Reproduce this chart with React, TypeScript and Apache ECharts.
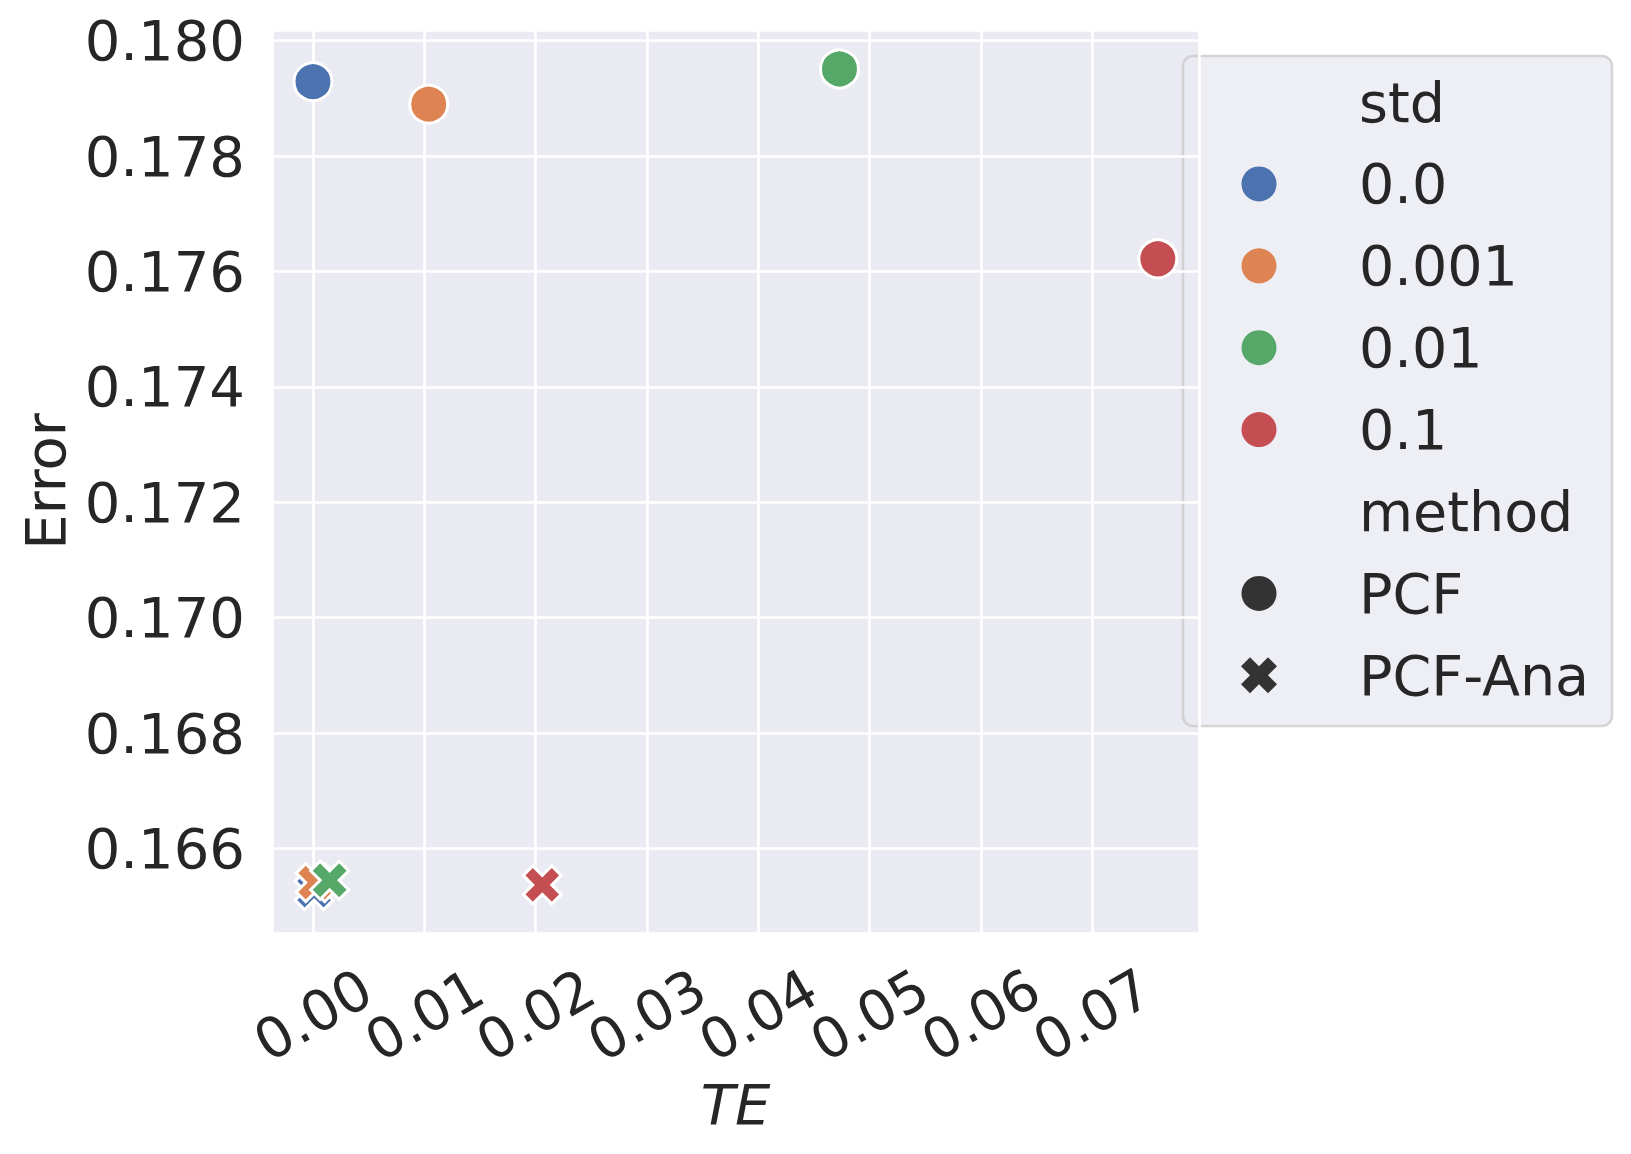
import React, { useEffect, useRef } from "react";
import * as echarts from "echarts";

// ---- data ----
const stdLevels = ["0.0", "0.001", "0.01", "0.1"];
const stdColors = ["#4C72B0", "#DD8452", "#55A868", "#C44E52"];
const methods = ["PCF", "PCF-Ana"];
// PCF (circles)
const pcfTE = [0.0, 0.0104, 0.0473, 0.0759];
const pcfError = [0.17929, 0.1789, 0.17951, 0.17622];
// PCF-Ana (crosses)
const anaTE = [0.0001, 0.0002, 0.0015, 0.0206];
const anaError = [0.16527, 0.16541, 0.16545, 0.16537];

const X_PATH = "M1 0 L2 1 L3 0 L4 1 L3 2 L4 3 L3 4 L2 3 L1 4 L0 3 L1 2 L0 1 Z";
const X_POINTS = [
  [1, 0], [2, 1], [3, 0], [4, 1], [3, 2], [4, 3], [3, 4], [2, 3], [1, 4], [0, 3], [1, 2], [0, 1],
];

const FONT = "DejaVu Sans";
const TEXT = "#262626";
const FS = 56;
const LFS = 55.5;

export default function App() {
  const ref = useRef<HTMLDivElement>(null);

  useEffect(() => {
    if (!ref.current) return;
    const chart = echarts.init(ref.current, undefined, { renderer: "svg" });

    const series = stdLevels.map((s, i) => ({
      type: "scatter",
      name: s,
      z: 2 + i,
      itemStyle: { color: stdColors[i], borderColor: "#ffffff", borderWidth: 3, opacity: 1 },
      data: [
        { value: [pcfTE[i], pcfError[i]], symbol: "circle", symbolSize: 38 },
        { value: [anaTE[i], anaError[i]], symbol: "path://" + X_PATH, symbolSize: 38 },
      ],
    }));

    // legend as graphic
    type Row = { label: string; marker?: "circle" | "x"; color?: string };
    const rows: Row[] = [
      { label: "std" },
      ...stdLevels.map((s, i) => ({ label: s, marker: "circle" as const, color: stdColors[i] })),
      { label: "method" },
      { label: methods[0], marker: "circle", color: "#333333" },
      { label: methods[1], marker: "x", color: "#333333" },
    ];
    const legendChildren: any[] = [
      {
        type: "rect",
        shape: { x: 1183, y: 56, width: 429, height: 670, r: 10 },
        style: { fill: "rgba(234,234,242,0.8)", stroke: "rgba(204,204,204,0.8)", lineWidth: 2.5 },
      },
    ];
    rows.forEach((r, k) => {
      const y = 102 + k * 81.9;
      if (r.marker === "circle") {
        legendChildren.push({
          type: "circle",
          shape: { cx: 1259, cy: y, r: 17.5 },
          style: { fill: r.color },
        });
      } else if (r.marker === "x") {
        const sc = 36 / 4;
        legendChildren.push({
          type: "polygon",
          shape: { points: X_POINTS.map(([px, py]) => [1259 - 18 + px * sc, y - 18 + py * sc]) },
          style: { fill: r.color },
        });
      }
      legendChildren.push({
        type: "text",
        x: 1359,
        y: y,
        style: {
          text: r.label,
          fill: TEXT,
          font: `${LFS}px "${FONT}"`,
          textAlign: "left",
          textVerticalAlign: "middle",
        },
      });
    });

    const option: any = {
      animation: false,
      backgroundColor: "#ffffff",
      textStyle: { fontFamily: FONT },
      grid: {
        left: 272,
        right: 432,
        top: 30,
        bottom: 221,
        show: true,
        backgroundColor: "#EAEAF2",
        borderWidth: 0,
        containLabel: false,
      },
      xAxis: {
        type: "value",
        min: -0.00368,
        max: 0.0796,
        splitNumber: 8,
        name: "TE",
        nameLocation: "middle",
        nameGap: 140,
        nameTextStyle: { fontSize: FS, fontStyle: "italic", color: TEXT, fontFamily: FONT },
        axisLine: { show: false },
        axisTick: { show: false },
        splitLine: { show: true, lineStyle: { color: "#ffffff", width: 2.6 } },
        axisLabel: {
          fontSize: FS,
          color: TEXT,
          fontFamily: FONT,
          rotate: 30,
          align: "center",
          verticalAlign: "middle",
          margin: 82,
          showMinLabel: false,
          showMaxLabel: false,
          hideOverlap: false,
          formatter: (v: number) => v.toFixed(2),
        },
      },
      yAxis: {
        type: "value",
        min: 0.164536,
        max: 0.180185,
        splitNumber: 8,
        name: "Error",
        nameLocation: "middle",
        nameGap: 190,
        nameTextStyle: { fontSize: FS, color: TEXT, fontFamily: FONT },
        axisLine: { show: false },
        axisTick: { show: false },
        splitLine: { show: true, lineStyle: { color: "#ffffff", width: 2.6 } },
        axisLabel: {
          fontSize: FS,
          color: TEXT,
          fontFamily: FONT,
          margin: 27,
          showMinLabel: false,
          showMaxLabel: false,
          formatter: (v: number) => v.toFixed(3),
        },
      },
      series,
      graphic: [{ type: "group", children: legendChildren }],
    };

    chart.setOption(option);
    return () => chart.dispose();
  }, []);

  return (
    <div
      ref={ref}
      style={{ position: "fixed", left: 0, top: 0, width: 1631, height: 1154 }}
    />
  );
}
